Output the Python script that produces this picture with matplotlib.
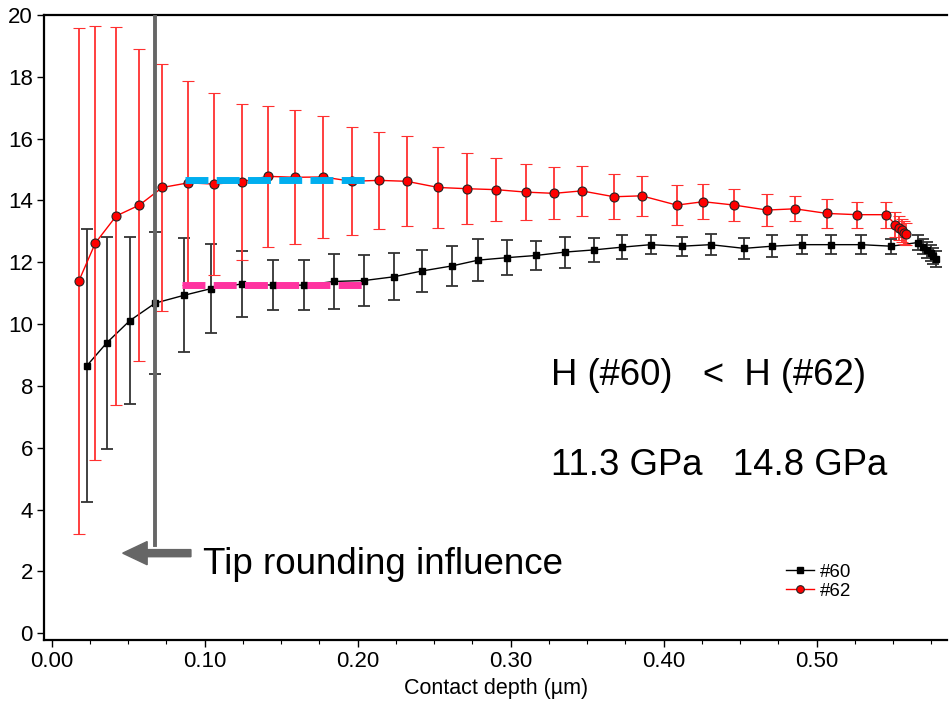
import matplotlib.pyplot as plt
from matplotlib.lines import Line2D
import numpy as np

plt.rcParams['font.family'] = ['Liberation Sans', 'DejaVu Sans']

# sample #60 (black squares)
depth_60 = [0.0231, 0.0359, 0.0510, 0.0677, 0.0863, 0.1043, 0.1244, 0.1448, 0.1649, 0.1847,
            0.2043, 0.2235, 0.2422, 0.2614, 0.2788, 0.2976, 0.3165, 0.3355, 0.3542, 0.3729,
            0.3915, 0.4118, 0.4307, 0.4525, 0.4708, 0.4904, 0.5094, 0.5292, 0.5488, 0.5660,
            0.5697, 0.5723, 0.5747, 0.5762, 0.5780]
hard_60 = [8.66, 9.39, 10.11, 10.68, 10.93, 11.15, 11.30, 11.26, 11.26, 11.38,
           11.41, 11.53, 11.72, 11.88, 12.07, 12.15, 12.22, 12.33, 12.40, 12.49,
           12.57, 12.52, 12.57, 12.45, 12.52, 12.57, 12.57, 12.57, 12.52, 12.64,
           12.51, 12.40, 12.30, 12.21, 12.11]
err_60 = [4.42, 3.44, 2.71, 2.30, 1.84, 1.45, 1.07, 0.80, 0.80, 0.88,
          0.84, 0.76, 0.69, 0.65, 0.69, 0.57, 0.46, 0.50, 0.38, 0.38,
          0.31, 0.31, 0.35, 0.34, 0.35, 0.31, 0.31, 0.31, 0.24, 0.25,
          0.25, 0.25, 0.25, 0.25, 0.25]

# sample #62 (red circles)
depth_62 = [0.0178, 0.0285, 0.0422, 0.0573, 0.0723, 0.0893, 0.1063, 0.1244, 0.1412, 0.1592,
            0.1775, 0.1960, 0.2139, 0.2320, 0.2527, 0.2717, 0.2904, 0.3100, 0.3283, 0.3464,
            0.3675, 0.3856, 0.4085, 0.4259, 0.4462, 0.4675, 0.4858, 0.5067, 0.5264, 0.5453,
            0.5514, 0.5540, 0.5556, 0.5571, 0.5582]
hard_62 = [11.40, 12.62, 13.50, 13.85, 14.42, 14.57, 14.53, 14.61, 14.78, 14.75,
           14.76, 14.62, 14.65, 14.62, 14.42, 14.38, 14.35, 14.27, 14.23, 14.31,
           14.12, 14.15, 13.85, 13.96, 13.85, 13.69, 13.73, 13.58, 13.54, 13.54,
           13.22, 13.11, 13.03, 12.96, 12.92]
err_62 = [8.18, 7.03, 6.11, 5.04, 3.98, 3.29, 2.94, 2.52, 2.29, 2.17,
          1.98, 1.75, 1.57, 1.45, 1.30, 1.15, 1.03, 0.91, 0.84, 0.81,
          0.73, 0.65, 0.65, 0.57, 0.53, 0.53, 0.41, 0.46, 0.42, 0.42,
          0.40, 0.40, 0.38, 0.38, 0.36]

# average hardness plateaus (dashed guides)
plateau_62 = (0.0871, 0.2074, 14.67)
plateau_60 = (0.0850, 0.2052, 11.26)
tip_limit = 0.0677

fig = plt.figure(figsize=(9.49, 7.01), dpi=100)
ax = fig.add_axes([0.0464, 0.087, 0.9516, 0.8916])

ax.errorbar(depth_60, hard_60, yerr=err_60, color='black', lw=1, marker='s', ms=5,
            mec='black', ecolor='#333333', elinewidth=1.3, capsize=4, capthick=1.3,
            zorder=2)
ax.errorbar(depth_62, hard_62, yerr=err_62, color='red', lw=1, marker='o', ms=6.5,
            mfc='red', mec='#222222', mew=0.8, ecolor='#ff3030', elinewidth=1.3,
            capsize=4, capthick=1.3, zorder=2.5)

ax.plot(plateau_62[:2], [plateau_62[2]] * 2, color='#00aeef', lw=5,
        linestyle=(0, (3.3, 1.2)), solid_capstyle='butt', zorder=4)
ax.plot(plateau_60[:2], [plateau_60[2]] * 2, color='#ff33a0', lw=5,
        linestyle=(0, (3.3, 1.2)), solid_capstyle='butt', zorder=4)

# tip rounding marker + arrow
ax.plot([tip_limit, tip_limit], [2.86, 19.94], color='#666666', lw=2.8, zorder=5)
ax.arrow(0.091, 2.59, 0.0464 - 0.091, 0, width=0.23, head_width=0.75,
         head_length=0.016, length_includes_head=True, color='#666666', zorder=5)

ax.text(0.0989, 1.92, 'Tip rounding influence', fontsize=26.5, va='baseline')
ax.text(0.3263, 8.04, 'H (#60)   <  H (#62)', fontsize=26.3, va='baseline')
ax.text(0.3263, 5.13, '11.3 GPa   14.8 GPa', fontsize=26.3, va='baseline')

ax.set_xlim(-0.005, 0.5852)
ax.set_ylim(-0.22, 20)
ax.set_xticks(np.arange(0, 0.51, 0.1))
ax.set_xticklabels(['%.2f' % v for v in np.arange(0, 0.51, 0.1)])
ax.set_xticks(np.arange(0, 0.5852, 0.025), minor=True)
ax.set_yticks(np.arange(0, 21, 2))
ax.tick_params(axis='both', which='major', labelsize=16, direction='out', length=5, width=1, pad=3)
ax.tick_params(axis='x', which='minor', direction='out', length=3, width=0.8)
ax.set_xlabel('Contact depth (µm)', fontsize=15.5, labelpad=4)

for s in ['left', 'bottom', 'top']:
    ax.spines[s].set_linewidth(1.6)
ax.spines['right'].set_visible(False)

handles = [Line2D([], [], color='black', lw=1, marker='s', ms=4.5),
           Line2D([], [], color='red', lw=1, marker='o', ms=5.5, mfc='red', mec='#222222', mew=0.8)]
ax.legend(handles, ['#60', '#62'], loc='upper left', bbox_to_anchor=(0.8282, 0.196),
          bbox_transform=fig.transFigure, frameon=False, fontsize=13.5, handlelength=1.5,
          handletextpad=0.3, labelspacing=0.1, borderpad=0, borderaxespad=0)

fig.savefig('out.png', dpi=100)
